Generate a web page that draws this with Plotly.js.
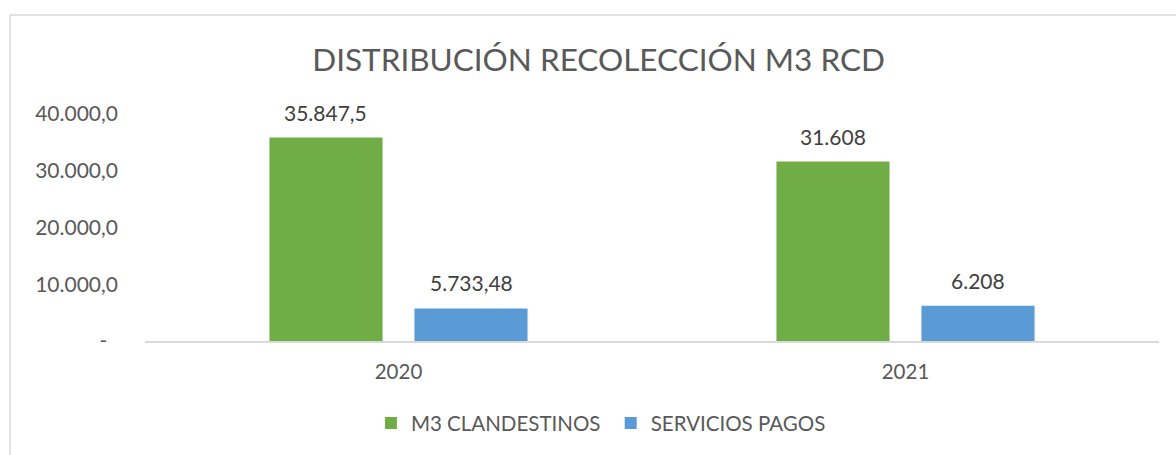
<!DOCTYPE html>
<html>
<head>
<meta charset="utf-8">
<script src="https://cdn.plot.ly/plotly-3.0.1.min.js"></script>
<style>
html,body{margin:0;padding:0;background:#fff;}
#chart{width:1176px;height:455px;}
</style>
</head>
<body>
<div id="chart"></div>
<script>
const categories = ["2020", "2021"];
const clandestinos = [35847.5, 31608];
const clandestinosLabels = ["35.847,5", "31.608"];
const servicios = [5733.48, 6208];
const serviciosLabels = ["5.733,48", "6.208"];
const seriesNames = ["M3 CLANDESTINOS", "SERVICIOS PAGOS"];
const yTickVals = [0, 10000, 20000, 30000, 40000];
const yTickText = ["-\u00a0\u00a0", "10.000,0", "20.000,0", "30.000,0", "40.000,0"];

const FONT = "Lato, 'Open Sans', sans-serif";
const GREY = "#595959";
const W = 1176, H = 455;
const M = {l: 145, r: 17, t: 114, b: 114};
const BARGAP = 0.428, GROUPGAP = 0.22;

const traces = [
  {type: "bar", name: seriesNames[0] + "\u00a0", x: categories, y: clandestinos,
   marker: {color: "#70AD47"}, hoverinfo: "none"},
  {type: "bar", name: seriesNames[1], x: categories, y: servicios,
   marker: {color: "#5B9BD5"}, hoverinfo: "none"}
];

// label offsets derived from the bar layout (half a group slot)
const plotW = W - M.l - M.r;
const slot = plotW / categories.length * (1 - BARGAP) / 2;
const annotations = [];
[[clandestinos, clandestinosLabels, -slot / 2], [servicios, serviciosLabels, slot / 2]].forEach(([vals, labs, dx]) => {
  vals.forEach((v, i) => annotations.push({
    x: i, y: v, xref: "x", yref: "y", text: labs[i],
    showarrow: false, xshift: dx, yshift: 11, yanchor: "bottom", xanchor: "center",
    font: {family: FONT, size: 21, color: "#404040"}
  }));
});

const layout = {
  width: W, height: H, margin: M,
  paper_bgcolor: "#fff", plot_bgcolor: "#fff",
  font: {family: FONT, color: GREY, size: 21},
  title: {
    text: "DISTRIBUCIÓN RECOLECCIÓN M3 RCD",
    font: {family: FONT, size: 31.5, color: GREY},
    xref: "container", x: 0.509, xanchor: "center",
    yref: "container", y: 0.868, yanchor: "middle"
  },
  barmode: "group", bargap: BARGAP, bargroupgap: GROUPGAP,
  xaxis: {
    type: "category", categoryorder: "array", categoryarray: categories,
    range: [-0.5, categories.length - 0.5], autorange: false,
    showline: true, linecolor: "#d9d9d9", linewidth: 1.5,
    ticks: "", showgrid: false, zeroline: false,
    tickfont: {family: FONT, size: 20.5, color: GREY},
    ticklabelstandoff: 12
  },
  yaxis: {
    range: [0, 40000], autorange: false, tickvals: yTickVals, ticktext: yTickText,
    showgrid: false, zeroline: false, showline: false, ticks: "",
    tickfont: {family: FONT, size: 21, color: GREY},
    ticklabelstandoff: 26
  },
  showlegend: true,
  legend: {
    orientation: "h", xref: "container", yref: "container",
    x: 0.511, xanchor: "center", y: 0.07, yanchor: "middle",
    font: {family: FONT, size: 20.5, color: GREY},
    itemwidth: 30, traceorder: "normal"
  },
  annotations: annotations,
  shapes: [
    {type: "line", xref: "paper", yref: "paper",
     x0: (10 - M.l) / plotW, x1: (W - M.l) / plotW,
     y0: (H - M.b - 15) / (H - M.t - M.b), y1: (H - M.b - 15) / (H - M.t - M.b),
     line: {color: "#d9d9d9", width: 1.5}},
    {type: "line", xref: "paper", yref: "paper",
     x0: (10 - M.l) / plotW, x1: (10 - M.l) / plotW,
     y0: (H - M.b - 15) / (H - M.t - M.b), y1: -M.b / (H - M.t - M.b) - 0.05,
     line: {color: "#d9d9d9", width: 1.5}}
  ]
};

Plotly.newPlot("chart", traces, layout, {displayModeBar: false, staticPlot: true});
</script>
</body>
</html>
